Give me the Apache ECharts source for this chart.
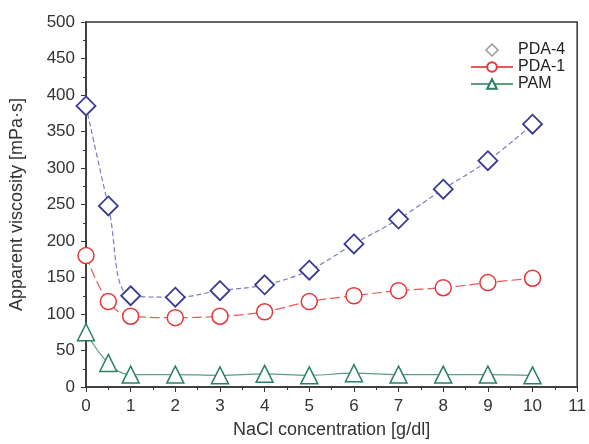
<!DOCTYPE html>
<html><head><meta charset="utf-8">
<script src="https://cdn.jsdelivr.net/npm/echarts@6/dist/echarts.min.js"></script>
<style>html,body{margin:0;padding:0;background:#fff}#c{width:589px;height:444px}</style>
</head><body><div id="c"></div>
<script>
var xValues = [0, 0.5, 1, 2, 3, 4, 5, 6, 7, 8, 9, 10];
var pda4 = [385, 248, 125, 123, 132, 140, 160, 196, 230, 271, 310, 360];
var pda1 = [180, 117, 97, 95, 97, 103, 117, 125, 132, 136, 143, 149];
var pam = [75, 33, 17, 17, 16, 18, 16, 19, 17, 17, 17, 16];
var xTicks = [0,1,2,3,4,5,6,7,8,9,10,11];
var yTicks = [0,50,100,150,200,250,300,350,400,450,500];

function pairs(v){ return xValues.map(function(x,i){return [x, v[i]];}); }
var font = 'Liberation Sans, Arial, sans-serif';
var chart = echarts.init(document.getElementById('c'));
chart.setOption({
  animation:false,
  backgroundColor:'#fff',
  grid:{left:86,right:7,top:22,bottom:51,show:true,borderColor:'#333',borderWidth:1.5,backgroundColor:'transparent'},
  legend:[{
    left:465, top:37, orient:'vertical', itemWidth:42, itemHeight:12, itemGap:1,
    textStyle:{fontFamily:font,fontSize:16,lineHeight:16,color:'#222'},
    data:[{name:'PDA-4', icon:'path://M5,0L10,5L5,10L0,5Z', itemStyle:{color:'#fff',borderColor:'#999',borderWidth:1.5}},
          {name:'PDA-1', lineStyle:{type:'solid'}},
          {name:'PAM', lineStyle:{type:'solid'}}]
  }],
  xAxis:{type:'value',min:xTicks[0],max:xTicks[xTicks.length-1],interval:1,
    name:'NaCl concentration [g/dl]',nameLocation:'middle',nameGap:34,
    nameTextStyle:{fontFamily:font,fontSize:18,color:'#333'},
    axisLine:{show:true,onZero:false,lineStyle:{color:'#333',width:1.5}},
    axisTick:{show:true,inside:false,length:5,lineStyle:{color:'#333'}},
    minorTick:{show:true,splitNumber:2,length:3,lineStyle:{color:'#333'}},
    axisLabel:{fontFamily:font,fontSize:17,color:'#333',margin:11},
    splitLine:{show:false}},
  yAxis:{type:'value',min:yTicks[0],max:yTicks[yTicks.length-1],interval:50,
    name:'Apparent viscosity [mPa·s]',nameLocation:'middle',nameGap:60,
    nameTextStyle:{fontFamily:font,fontSize:18,color:'#333'},
    axisLine:{show:true,lineStyle:{color:'#333',width:1.5}},
    axisTick:{show:true,inside:false,length:5,lineStyle:{color:'#333'}},
    minorTick:{show:true,splitNumber:2,length:3,lineStyle:{color:'#333'}},
    axisLabel:{fontFamily:font,fontSize:17,color:'#333',margin:11},
    splitLine:{show:false}},
  series:[
    {name:'PDA-4',type:'line',data:pairs(pda4),smooth:0.4,symbol:'diamond',symbolSize:19,
      itemStyle:{color:'#fff',borderColor:'#3a3a96',borderWidth:1.8},
      lineStyle:{color:'#7a7ac4',width:1.2,type:[5,3]}},
    {name:'PDA-1',type:'line',data:pairs(pda1),smooth:0.4,symbol:'circle',symbolSize:16,
      itemStyle:{color:'#fff',borderColor:'#e03838',borderWidth:1.5},
      lineStyle:{color:'#e85a5a',width:1.2,type:[10,4]}},
    {name:'PAM',type:'line',data:pairs(pam),smooth:0.4,symbol:'triangle',symbolSize:17,
      itemStyle:{color:'#fff',borderColor:'#2a8060',borderWidth:1.5},
      lineStyle:{color:'#5a9e80',width:1.2}}
  ]
});
</script></body></html>
